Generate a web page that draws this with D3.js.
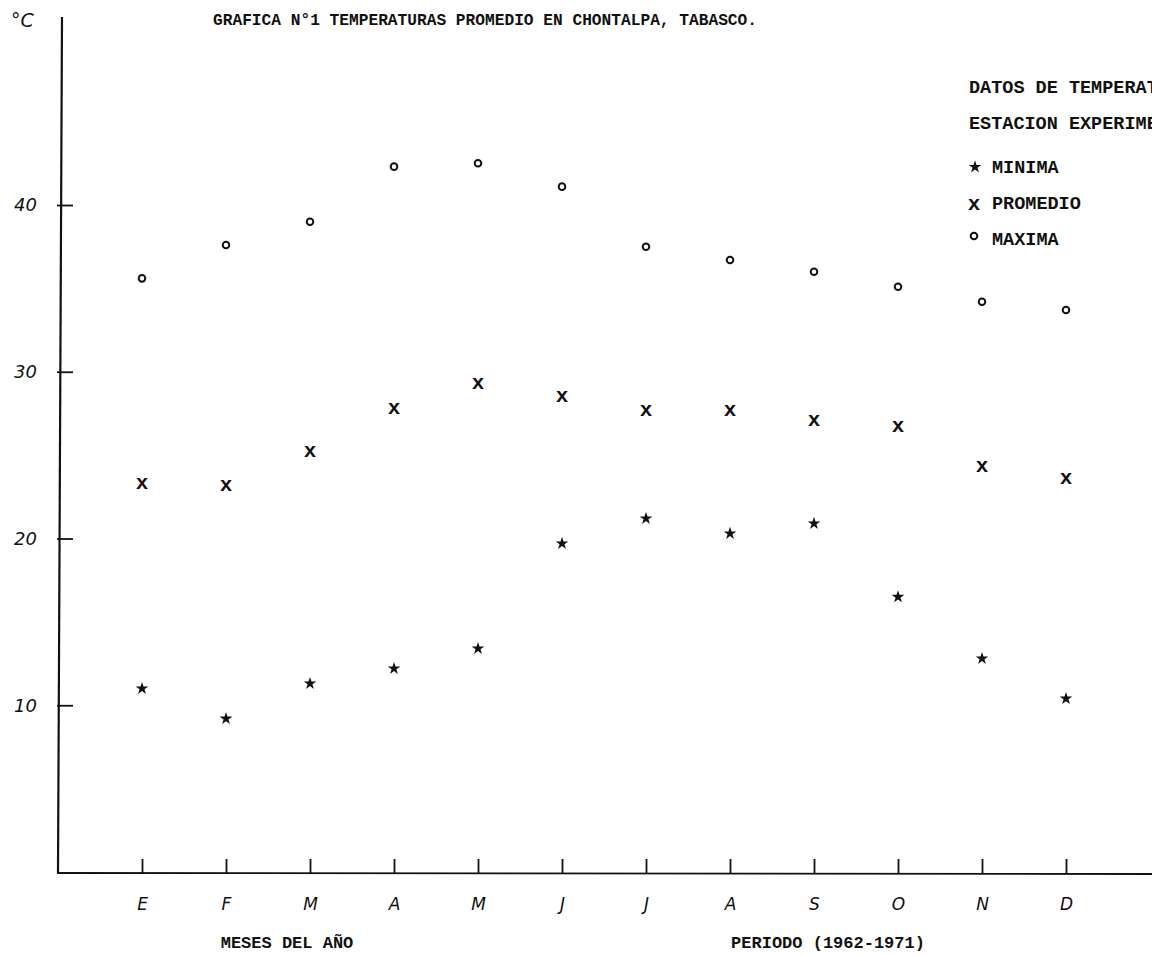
<!DOCTYPE html>
<html>
<head>
<meta charset="utf-8">
<script src="https://cdn.jsdelivr.net/npm/d3@7"></script>
<style>
  body { margin: 0; background: #fff; }
  svg { display: block; }
</style>
</head>
<body>
<div class="chart"></div>
<script>
        // Data (°C, 1962-1971)
        var months = ["E", "F", "M", "A", "M2", "J", "J2", "A2", "S", "O", "N", "D"];
        var monthLabels = ["E", "F", "M", "A", "M", "J", "J", "A", "S", "O", "N", "D"];
        var maxima   = [35.6, 37.6, 39.0, 42.3, 42.5, 41.1, 37.5, 36.7, 36.0, 35.1, 34.2, 33.7];
        var promedio = [23.3, 23.2, 25.2, 27.8, 29.3, 28.5, 27.7, 27.7, 27.1, 26.7, 24.3, 23.6];
        var minima   = [11.0, 9.2, 11.3, 12.2, 13.4, 19.7, 21.2, 20.3, 20.9, 16.5, 12.8, 10.4];
        var yTicks = [10, 20, 30, 40];

        var w = 1152;
        var h = 955;
        var typeFont = "'Liberation Mono', 'DejaVu Sans Mono', monospace";
        var handFont = "'DejaVu Sans', sans-serif";

        var xScale = d3.scalePoint()
                        .domain(months)
                        .range([142, 1066]);

        var yScale = d3.scaleLinear()
                        .domain([0, 40])
                        .range([872, 205]);

        var svg = d3.select("div.chart")
                    .append("svg")
                    .attr("width", w)
                    .attr("height", h);

        // axis lines
        svg.append("line")
            .attr("x1", 62).attr("y1", 17)
            .attr("x2", 58).attr("y2", 873)
            .attr("stroke", "#111").attr("stroke-width", 2.2);
        svg.append("line")
            .attr("x1", 57).attr("y1", 873)
            .attr("x2", 1152).attr("y2", 874)
            .attr("stroke", "#111").attr("stroke-width", 1.8);

        // y axis ticks (pointing right)
        var y_axis = d3.axisLeft(yScale)
            .tickValues(yTicks)
            .tickSize(-13)
            .tickSizeOuter(0)
            .tickFormat(d3.format("d"));

        var yg = svg.append("g")
            .attr("transform", "translate(60,0)")
            .call(y_axis);
        yg.select(".domain").remove();
        yg.selectAll(".tick line").attr("stroke", "#111").attr("stroke-width", 1.8).attr("x1", -3);
        yg.selectAll(".tick text")
            .attr("font-family", handFont)
            .attr("font-style", "italic")
            .attr("font-size", "18px")
            .attr("fill", "#111")
            .attr("text-anchor", "end")
            .attr("x", -23);

        // x axis ticks (pointing up)
        var x_axis = d3.axisBottom(xScale)
            .tickSize(-14)
            .tickSizeOuter(0)
            .tickPadding(25)
            .tickFormat(function(d, i) { return monthLabels[i]; });

        var xg = svg.append("g")
            .attr("transform", "translate(0,873)")
            .call(x_axis);
        xg.select(".domain").remove();
        xg.selectAll(".tick line").attr("stroke", "#111").attr("stroke-width", 1.8);
        xg.selectAll(".tick text")
            .attr("font-family", handFont)
            .attr("font-style", "italic")
            .attr("font-size", "17px")
            .attr("fill", "#111");

        // unit label
        svg.append("text")
            .attr("x", 11).attr("y", 27)
            .attr("font-family", handFont)
            .attr("font-style", "italic")
            .attr("font-size", "19px")
            .attr("fill", "#111")
            .text("°C");

        // title
        svg.append("text")
            .attr("x", 213).attr("y", 25)
            .attr("font-family", typeFont)
            .attr("font-weight", "bold")
            .attr("font-size", "16.2px")
            .attr("fill", "#111")
            .text("GRAFICA N°1 TEMPERATURAS PROMEDIO EN CHONTALPA, TABASCO.");

        // bottom labels
        svg.append("text")
            .attr("x", 287).attr("y", 948)
            .attr("text-anchor", "middle")
            .attr("font-family", typeFont)
            .attr("font-weight", "bold")
            .attr("font-size", "17px")
            .attr("fill", "#111")
            .text("MESES DEL AÑO");
        svg.append("text")
            .attr("x", 828).attr("y", 948)
            .attr("text-anchor", "middle")
            .attr("font-family", typeFont)
            .attr("font-weight", "bold")
            .attr("font-size", "17px")
            .attr("fill", "#111")
            .text("PERIODO (1962-1971)");

        // legend texts
        var legendLines = ["DATOS DE TEMPERATURA", "ESTACION EXPERIMENTAL"];
        svg.selectAll("text.head")
            .data(legendLines)
            .enter()
            .append("text")
            .attr("class", "head")
            .attr("x", 969)
            .attr("y", function(d, i) { return 93 + i * 36; })
            .attr("font-family", typeFont)
            .attr("font-weight", "bold")
            .attr("font-size", "18.5px")
            .attr("fill", "#111")
            .text(function(d) { return d; });

        var legendNames = ["MINIMA", "PROMEDIO", "MAXIMA"];
        svg.selectAll("text.leg")
            .data(legendNames)
            .enter()
            .append("text")
            .attr("class", "leg")
            .attr("x", 992)
            .attr("y", function(d, i) { return 173 + i * 36; })
            .attr("font-family", typeFont)
            .attr("font-weight", "bold")
            .attr("font-size", "18.5px")
            .attr("fill", "#111")
            .text(function(d) { return d; });

        var star = d3.symbol().type(d3.symbolStar).size(50);
        var circle = d3.symbol().type(d3.symbolCircle).size(34);

        svg.append("path").attr("d", star).attr("transform", "translate(975,167)").attr("fill", "#111");
        svg.append("text")
            .attr("x", 974).attr("y", 204)
            .attr("text-anchor", "middle")
            .attr("dominant-baseline", "central")
            .attr("font-family", typeFont).attr("font-weight", "bold")
            .attr("font-size", "21px").attr("fill", "#111")
            .text("x");
        svg.append("path").attr("d", circle).attr("transform", "translate(974,236)")
            .attr("fill", "#fff").attr("stroke", "#111").attr("stroke-width", 2);

        var px = function(d, i) { return xScale(months[i]); };

        // maxima
        svg.selectAll("path.max")
           .data(maxima)
           .enter()
           .append("path")
           .attr("class", "max")
           .attr("d", circle)
           .attr("transform", function(d, i) { return "translate(" + px(d, i) + "," + yScale(d) + ")"; })
           .attr("fill", "#fff")
           .attr("stroke", "#111")
           .attr("stroke-width", 2);

        // promedio
        svg.selectAll("text.prom")
           .data(promedio)
           .enter()
           .append("text")
           .attr("class", "prom")
           .attr("x", px)
           .attr("y", function(d) { return yScale(d); })
           .attr("text-anchor", "middle")
           .attr("dominant-baseline", "central")
           .attr("font-family", typeFont)
           .attr("font-weight", "bold")
           .attr("font-size", "21px")
           .attr("fill", "#111")
           .text("x");

        // minima
        svg.selectAll("path.min")
           .data(minima)
           .enter()
           .append("path")
           .attr("class", "min")
           .attr("d", star)
           .attr("transform", function(d, i) { return "translate(" + px(d, i) + "," + yScale(d) + ")"; })
           .attr("fill", "#111");
</script>
</body>
</html>
